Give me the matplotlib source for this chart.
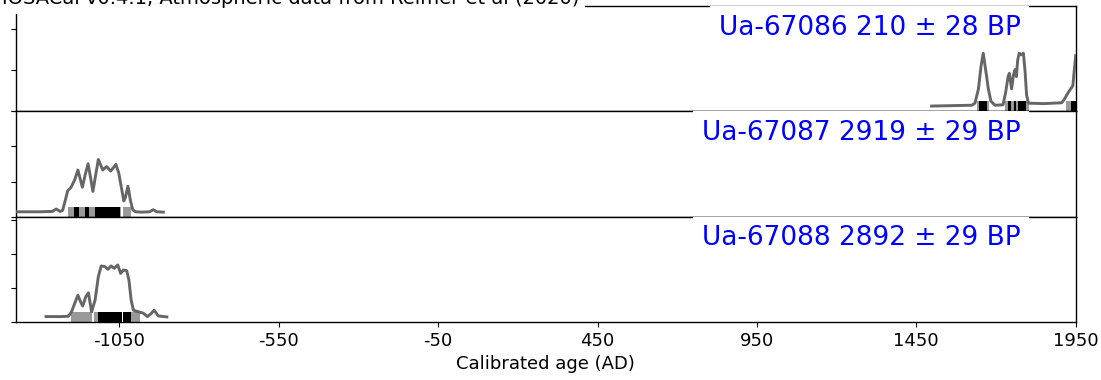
"""
Stacked calibration plot for three Ua radiocarbon samples (IOSACal style).
"""

import matplotlib
matplotlib.use("Agg")
import matplotlib.pyplot as plt

title = "IOSACal v0.4.1, Atmospheric data from Reimer et al (2020)"

labels = ["Ua-67086 210 ± 28 BP",
          "Ua-67087 2919 ± 29 BP",
          "Ua-67088 2892 ± 29 BP"]

# calibrated probability curves (year AD, relative density)
years_67086 = [1498, 1560, 1624, 1634, 1645, 1653, 1660, 1665, 1671, 1676, 1684,
               1697, 1722, 1730, 1738, 1742, 1749, 1755, 1760, 1764, 1768, 1773,
               1779, 1786, 1791, 1796, 1802, 1850, 1906, 1915, 1922, 1930, 1936,
               1941, 1945, 1950]
prob_67086 = [0.13, 0.14, 0.15, 0.2, 0.55, 1.1, 1.42, 1.15, 0.83, 0.55, 0.25,
              0.15, 0.16, 0.45, 0.85, 0.93, 0.55, 0.9, 1.02, 0.85, 1.25, 1.42,
              1.38, 1.42, 1.0, 0.4, 0.2, 0.19, 0.21, 0.3, 0.4, 0.5, 0.57,
              0.62, 0.95, 1.36]

years_67087 = [-1372, -1300, -1260, -1248, -1236, -1228, -1220, -1212, -1202,
               -1190, -1180, -1166, -1157, -1148, -1140, -1133, -1124, -1116,
               -1102, -1090, -1077, -1061, -1052, -1043, -1036, -1031, -1023,
               -1015, -1008, -1000, -980, -955, -944, -932, -912]
prob_67087 = [0.14, 0.14, 0.15, 0.22, 0.15, 0.18, 0.45, 0.74, 0.83,
              1.05, 1.33, 0.84, 1.2, 1.51, 1.1, 0.72, 1.2, 1.63,
              1.33, 1.43, 1.30, 1.49, 1.25, 0.8, 0.45, 0.55, 0.87,
              0.45, 0.2, 0.14, 0.13, 0.14, 0.2, 0.14, 0.13]

years_67088 = [-1280, -1230, -1210, -1200, -1194, -1180, -1172, -1165, -1155,
               -1147, -1137, -1126, -1116, -1107, -1095, -1086, -1076, -1066,
               -1055, -1046, -1037, -1027, -1020, -1013, -1006, -998, -990,
               -975, -962, -950, -941, -928, -901]
prob_67088 = [0.16, 0.16, 0.17, 0.3, 0.45, 0.79, 0.6, 0.47, 0.75,
              0.86, 0.3, 0.65, 1.33, 1.65, 1.63, 1.55, 1.65, 1.58,
              1.68, 1.43, 1.53, 1.51, 1.24, 0.65, 0.35, 0.32, 0.3,
              0.26, 0.16, 0.25, 0.35, 0.18, 0.15]

# highest posterior density ranges (95% grey, 68% black)
hpd95_67086 = [(1640, 1678), (1728, 1804), (1919, 1950)]
hpd68_67086 = [(1647, 1672), (1739, 1747), (1757, 1763), (1770, 1794), (1934, 1950)]
hpd95_67087 = [(-1212, -1045), (-1037, -1014)]
hpd68_67087 = [(-1192, -1176), (-1158, -1144), (-1126, -1048)]
hpd95_67088 = [(-1201, -1137), (-1128, -1041), (-1037, -985)]
hpd68_67088 = [(-1116, -1042), (-1037, -1014)]

xticks = [-1050, -550, -50, 450, 950, 1450, 1950]

curves = [(years_67086, prob_67086, hpd95_67086, hpd68_67086),
          (years_67087, prob_67087, hpd95_67087, hpd68_67087),
          (years_67088, prob_67088, hpd95_67088, hpd68_67088)]
ytops = [2.57, 3.0, 3.1]

fig, axs = plt.subplots(3, 1, sharex=True, figsize=(11.01, 3.8), dpi=100)
fig.subplots_adjust(left=0.0143, right=0.977, top=0.984, bottom=0.1526, hspace=0)

for ax, label, (yrs, prob, hpd95, hpd68), top in zip(axs, labels, curves, ytops):
    for a, b in hpd95:
        ax.axvspan(a, b, ymin=0, ymax=0.095, color="#999999", lw=0, zorder=1)
    for a, b in hpd68:
        ax.axvspan(a, b, ymin=0, ymax=0.095, color="black", lw=0, zorder=2)
    ax.plot(yrs, prob, color="#666666", lw=2.1, zorder=3)

    # white box hides the spine behind the label, as in IOSACal output
    ax.text(0.948, 0.92, label, transform=ax.transAxes, ha="right", va="top",
            fontsize=19, color="blue", zorder=5, clip_on=False,
            bbox=dict(facecolor="white", edgecolor="none", pad=6))

    ax.set_ylim(0, top)
    ax.set_yticks(range(int(top) + 1))
    ax.set_yticklabels([])
    for s in ax.spines.values():
        s.set_linewidth(1.0)

for ax in axs[:-1]:
    ax.tick_params(axis="x", bottom=False)

axs[-1].set_xlim(-1375, 1950)
axs[-1].set_xticks(xticks)
axs[-1].set_xticklabels([str(t) for t in xticks], fontsize=13)
axs[-1].set_xlabel("Calibrated age (AD)", fontsize=13)

fig.text(0.002, 0.989, title, fontsize=14, va="baseline",
         bbox=dict(facecolor="white", edgecolor="none"))

plt.savefig("out.png", dpi=100)
plt.close()
